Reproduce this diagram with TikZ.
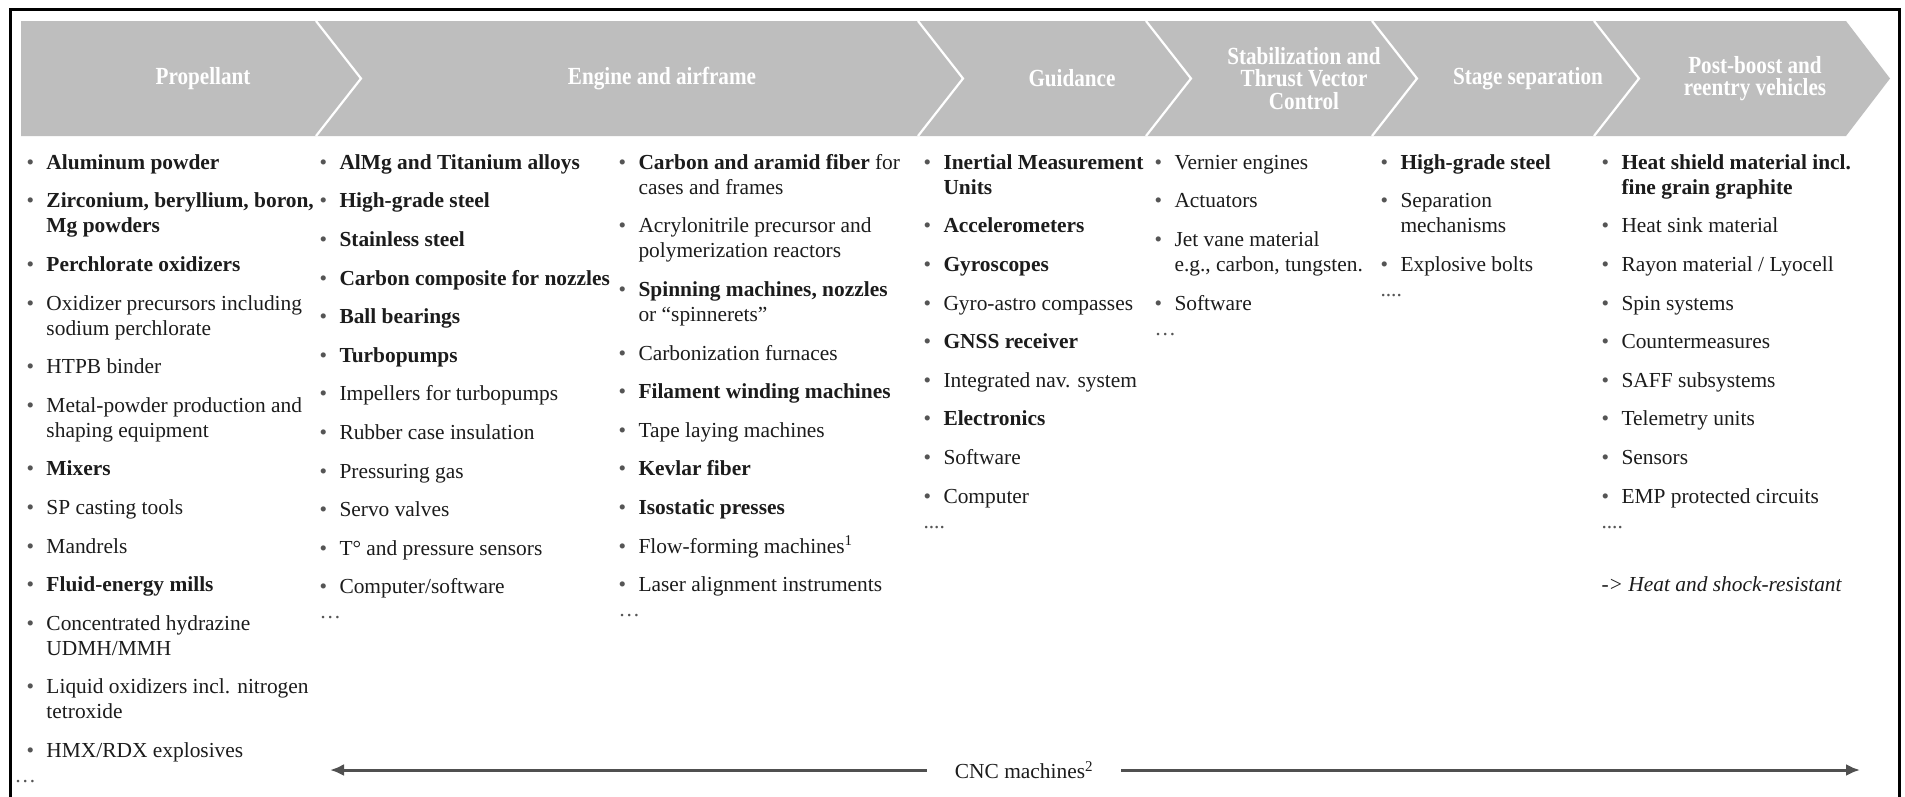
\documentclass[tikz,border=0pt]{standalone}
\usepackage{fontspec}
\setmainfont{Liberation Serif}
\newfontfamily\headfont{Liberation Serif}[FakeStretch=0.86]
\usetikzlibrary{arrows.meta}
\definecolor{bandgray}{HTML}{BEBEBE}
\definecolor{txtcol}{HTML}{1C1C1C}
\definecolor{bulcol}{HTML}{555555}
\definecolor{arrcol}{HTML}{505050}
\newcommand{\bu}{\makebox[20pt][l]{\textcolor{bulcol}{•}}}
\newcommand{\ci}{\hspace*{20pt}}
\newcommand{\gap}{\\[13.6pt]}
\newcommand{\firstrow}{\rule{0pt}{17pt}}
\begin{document}
\begin{tikzpicture}[x=1pt,y=-1pt,
  colbox/.style={anchor=north west, inner sep=0pt, align=left, text=txtcol,
     font=\fontsize{21.4pt}{25pt}\selectfont},
  headtxt/.style={inner sep=0pt, align=center, text=white,
     font=\headfont\fontsize{24.6pt}{22.5pt}\selectfont\bfseries},
  sepline/.style={draw=white, line width=2.2pt, line join=miter},
  cncline/.style={draw=arrcol, line width=3pt, -{Latex[length=14pt,width=12pt]}}
]
\useasboundingbox (0,0) rectangle (1905,796);
\fill[white] (0,0) rectangle (1905,796);
\draw[line width=3pt] (10,830) -- (10,9) -- (1899,9) -- (1899,830);
% chevron band
\fill[bandgray] (21,21) -- (1846,21) -- (1890,78.5) -- (1846,136) -- (21,136) -- cycle;
\foreach \s in {316,918,1146,1372,1594}
  \draw[sepline] (\s,21) -- (\s+45,78.5) -- (\s,136);
% headers
\node[headtxt] (h1) at (203,78.5) {Propellant};
\node[headtxt] (h2) at (662,78.5) {Engine and airframe};
\node[headtxt] (h3) at (1072,78.5) {Guidance};
\node[headtxt] (h4) at (1304,78.5) {Stabilization and\\Thrust Vector\\Control};
\node[headtxt] (h5) at (1528,78.5) {Stage separation};
\node[headtxt] (h6) at (1755,78.5) {Post-boost and\\reentry vehicles};
% columns
\node[colbox] (c1) at (26.3,152) {\firstrow\bu\textbf{Aluminum powder}\gap
\bu\textbf{Zirconium, beryllium, boron,}\\
\ci\textbf{Mg powders}\gap
\bu\textbf{Perchlorate oxidizers}\gap
\bu Oxidizer precursors including\\
\ci sodium perchlorate\gap
\bu HTPB binder\gap
\bu Metal-powder production and\\
\ci shaping equipment\gap
\bu\textbf{Mixers}\gap
\bu SP casting tools\gap
\bu Mandrels\gap
\bu\textbf{Fluid-energy mills}\gap
\bu Concentrated hydrazine\\
\ci UDMH/MMH\gap
\bu Liquid oxidizers incl. nitrogen\\
\ci tetroxide\gap
\bu HMX/RDX explosives\\
\hspace*{-12pt}\textcolor{bulcol}{…}};
\node[colbox] (c2) at (319.3,152) {\firstrow\bu\textbf{AlMg and Titanium alloys}\gap
\bu\textbf{High-grade steel}\gap
\bu\textbf{Stainless steel}\gap
\bu\textbf{Carbon composite for nozzles}\gap
\bu\textbf{Ball bearings}\gap
\bu\textbf{Turbopumps}\gap
\bu Impellers for turbopumps\gap
\bu Rubber case insulation\gap
\bu Pressuring gas\gap
\bu Servo valves\gap
\bu T° and pressure sensors\gap
\bu Computer/software\\
\textcolor{bulcol}{…}};
\node[colbox] (c3) at (618.3,152) {\firstrow\bu\textbf{Carbon and aramid fiber} for\\
\ci cases and frames\gap
\bu Acrylonitrile precursor and\\
\ci polymerization reactors\gap
\bu\textbf{Spinning machines, nozzles}\\
\ci or “spinnerets”\gap
\bu Carbonization furnaces\gap
\bu\textbf{Filament winding machines}\gap
\bu Tape laying machines\gap
\bu\textbf{Kevlar fiber}\gap
\bu\textbf{Isostatic presses}\gap
\bu Flow-forming machines\textsuperscript{1}\gap
\bu Laser alignment instruments\\
\textcolor{bulcol}{…}};
\node[colbox] (c4) at (923.3,152) {\firstrow\bu\textbf{Inertial Measurement}\\
\ci\textbf{Units}\gap
\bu\textbf{Accelerometers}\gap
\bu\textbf{Gyroscopes}\gap
\bu Gyro-astro compasses\gap
\bu\textbf{GNSS receiver}\gap
\bu Integrated nav. system\gap
\bu\textbf{Electronics}\gap
\bu Software\gap
\bu Computer\\
\textcolor{bulcol}{....}};
\node[colbox] (c5) at (1154.3,152) {\firstrow\bu Vernier engines\gap
\bu Actuators\gap
\bu Jet vane material\\
\ci e.g., carbon, tungsten.\gap
\bu Software\\
\textcolor{bulcol}{…}};
\node[colbox] (c6) at (1380.3,152) {\firstrow\bu\textbf{High-grade steel}\gap
\bu Separation\\
\ci mechanisms\gap
\bu Explosive bolts\\
\textcolor{bulcol}{....}};
\node[colbox] (c7) at (1601.3,152) {\firstrow\bu\textbf{Heat shield material incl.}\\
\ci\textbf{fine grain graphite}\gap
\bu Heat sink material\gap
\bu Rayon material / Lyocell\gap
\bu Spin systems\gap
\bu Countermeasures\gap
\bu SAFF subsystems\gap
\bu Telemetry units\gap
\bu Sensors\gap
\bu EMP protected circuits\\
\textcolor{bulcol}{....}\\[38pt]
\textit{-> Heat and shock-resistant}};
% CNC arrow
\node[font=\fontsize{21.4pt}{23pt}\selectfont, text=txtcol, inner xsep=28pt, inner ysep=0pt] (cnc) at (1024,770) {CNC machines\textsuperscript{2}};
\coordinate (cncL) at (330,770);
\coordinate (cncR) at (1860,770);
\draw[cncline] (cnc.west) -- (cncL);
\draw[cncline] (cnc.east) -- (cncR);
\end{tikzpicture}
\end{document}
